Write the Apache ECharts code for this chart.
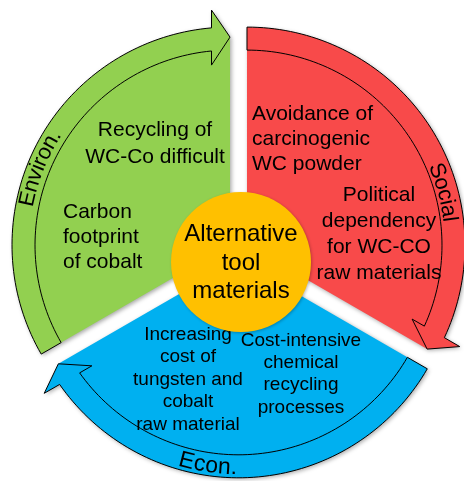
<!DOCTYPE html>
<html><head><meta charset="utf-8">
<script src="https://cdn.jsdelivr.net/npm/echarts@6/dist/echarts.min.js"></script>
<style>html,body{margin:0;padding:0;background:#fff}#c{width:464px;height:481px}</style>
</head><body><div id="c"></div>
<script>
// ---- data ----
const segmentNames = ['Environ.', 'Social', 'Econ.'];
const segmentShares = [1, 1, 1];
const segmentColors = ['#92D050', '#F84A4A', '#00B0F0'];
const segmentLabelsA = ['Recycling of\nWC-Co difficult', 'Avoidance of\ncarcinogenic\nWC powder', 'Increasing\ncost of\ntungsten and\ncobalt\nraw material'];
const segmentLabelsB = ['Carbon\nfootprint\nof cobalt', 'Political\ndependency\nfor WC-CO\nraw materials', 'Cost-intensive\nchemical\nrecycling\nprocesses'];
const centerLabel = 'Alternative\ntool\nmaterials';

// ---- layout ----
const FONT = '"Liberation Sans", Arial, Helvetica, sans-serif';
const G = { cx: 238.5, cy: 250, explode: 9.8, rOut: 218, rIn: 195, tip: 208, headOut: 235, headIn: 180, headLen: 18.5, startDeg: 210 };
const labelLayoutA = [[155, 144, 'center', 21, 27], [252, 139.6, 'left', 21, 25], [188, 379.4, 'center', 19, 22.5]];
const labelLayoutB = [[63, 237.6, 'left', 21, 25], [379, 234.2, 'center', 21, 25.7], [301, 373.9, 'center', 19, 22.3]];
const nameLayout = [[158, 207, 22, 'cw'], [15, 204, 22, 'cw'], [261.5, 208, 23, 'ccw']];
const centerCircle = { x: 241, y: 262, r: 70, color: '#FFC000', fontSize: 24, lineHeight: 28.5, ty: 263.1 };

const measureCtx = document.createElement('canvas').getContext('2d');
const D2R = Math.PI / 180;

function segGeom(idx) {
  const total = segmentShares.reduce((a, b) => a + b, 0);
  let cum = 0;
  for (let i = 0; i < idx; i++) cum += segmentShares[i];
  const a0 = G.startDeg - cum / total * 360;
  const a1 = a0 - segmentShares[idx] / total * 360;
  const bis = (a0 + a1) / 2 * D2R;
  const ax = G.cx + G.explode * Math.cos(bis);
  const ay = G.cy - G.explode * Math.sin(bis);
  return { a0, a1, ax, ay };
}

function renderSegment(params, api) {
  const idx = api.value(0);
  const g = segGeom(idx);
  const P = (r, deg) => api.coord([g.ax + r * Math.cos(deg * D2R), g.ay - r * Math.sin(deg * D2R)]);
  const u = [Math.cos(g.a1 * D2R), -Math.sin(g.a1 * D2R)];
  const v = [-Math.sin(g.a1 * D2R), -Math.cos(g.a1 * D2R)];
  const F = (a, b) => api.coord([g.ax + a * u[0] + b * v[0], g.ay + a * u[1] + b * v[1]]);
  const L = G.headLen;
  const dOut = Math.asin(L / G.rOut) / D2R;
  const dIn = Math.asin(L / G.rIn) / D2R;
  const N = 80;
  const outerArc = [];
  for (let k = 0; k <= N; k++) {
    const d = g.a0 + (g.a1 + dOut - g.a0) * k / N;
    outerArc.push(P(G.rOut, d));
  }
  const innerArc = [];
  for (let k = 0; k <= N; k++) {
    const d = (g.a1 + dIn) + (g.a0 - (g.a1 + dIn)) * k / N;
    innerArc.push(P(G.rIn, d));
  }
  const apex = api.coord([g.ax, g.ay]);
  const fillPts = [apex].concat(outerArc, [F(G.headOut, L), F(G.tip, 0), apex]);
  const outlinePts = [P(G.rIn, g.a0)].concat(outerArc, [F(G.headOut, L), F(G.tip, 0), F(G.headIn, L)], innerArc);

  const children = [
    { type: 'polygon', shape: { points: fillPts }, style: { fill: segmentColors[idx], shadowBlur: 4, shadowColor: 'rgba(0,0,0,0.35)', shadowOffsetX: 1.5, shadowOffsetY: 1.5 } },
    { type: 'polygon', shape: { points: outlinePts }, style: { fill: 'none', stroke: '#000', lineWidth: 1 } }
  ];

  // curved segment name
  const nl = nameLayout[idx];
  const str = segmentNames[idx];
  measureCtx.font = nl[2] + 'px ' + FONT;
  const chars = Array.from(str);
  const widths = chars.map(ch => measureCtx.measureText(ch).width);
  const tw = widths.reduce((a, b) => a + b, 0);
  const sign = nl[3] === 'cw' ? -1 : 1;
  let s = -tw / 2;
  chars.forEach((ch, i) => {
    const mid = s + widths[i] / 2;
    const deg = nl[0] + sign * (mid / nl[1]) / D2R;
    const pt = P(nl[1], deg);
    const rot = nl[3] === 'cw' ? deg - 90 : deg + 90;
    children.push({ type: 'text', x: pt[0], y: pt[1], rotation: rot * D2R,
      style: { text: ch, fontSize: nl[2], fontFamily: FONT, fill: '#000', align: 'center', verticalAlign: 'middle' } });
    s += widths[i];
  });

  [[segmentLabelsA, labelLayoutA], [segmentLabelsB, labelLayoutB]].forEach(([txt, lay]) => {
    const l = lay[idx];
    const p = api.coord([l[0], l[1]]);
    children.push({ type: 'text', x: p[0], y: p[1],
      style: { text: txt[idx], fontSize: l[3], lineHeight: l[4], fontFamily: FONT, fill: '#000', align: l[2], verticalAlign: 'middle' } });
  });
  return { type: 'group', children };
}

function renderCenter(params, api) {
  const c = api.coord([centerCircle.x, centerCircle.y]);
  const t = api.coord([centerCircle.x, centerCircle.ty]);
  const r = api.size([centerCircle.r, 0])[0];
  return { type: 'group', children: [
    { type: 'circle', shape: { cx: c[0], cy: c[1], r }, style: { fill: centerCircle.color, shadowBlur: 3, shadowColor: 'rgba(0,0,0,0.25)', shadowOffsetX: 1, shadowOffsetY: 1 } },
    { type: 'text', x: t[0], y: t[1], style: { text: api.value(1) === 0 ? centerLabel : centerLabel, fontSize: centerCircle.fontSize, lineHeight: centerCircle.lineHeight, fontFamily: FONT, fill: '#000', align: 'center', verticalAlign: 'middle' } }
  ] };
}

const chart = echarts.init(document.getElementById('c'), null, { renderer: 'canvas' });
chart.setOption({
  animation: false,
  backgroundColor: '#ffffff',
  grid: { left: 0, right: 0, top: 0, bottom: 0 },
  xAxis: { type: 'value', min: 0, max: 464, show: false },
  yAxis: { type: 'value', min: 0, max: 481, inverse: true, show: false },
  series: [
    { type: 'custom', silent: true, renderItem: renderSegment, data: segmentNames.map((n, i) => [i]), z: 2 },
    { type: 'custom', silent: true, renderItem: renderCenter, data: [[0, 0]], z: 3 }
  ]
});
</script></body></html>
